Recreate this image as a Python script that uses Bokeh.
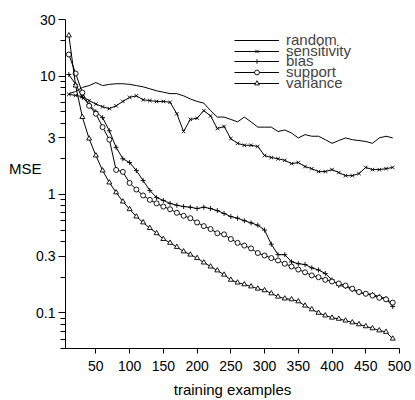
from bokeh.plotting import figure
from bokeh.models import FixedTicker, Legend, LegendItem, CustomJSTickFormatter, LogAxis
from bokeh.embed import file_html
from bokeh.resources import INLINE

# ---- data -------------------------------------------------------------
examples = list(range(10, 500, 10))

random_mse = [7.1, 7.4, 8.0, 8.3, 8.8, 8.3, 8.5, 8.6, 8.6, 8.5,
              8.3, 8.1, 7.8, 7.5, 7.3, 7.1, 7.1, 6.8, 6.4, 6.1,
              5.9, 5.1, 4.5, 4.5, 4.3, 4.1, 4.5, 4.1, 3.7, 3.7,
              3.7, 3.4, 3.5, 3.3, 3.0, 3.2, 3.1, 3.1, 2.9, 2.7,
              2.85, 3.0, 2.9, 2.85, 2.8, 2.7, 3.0, 3.1, 3.0]

sensitivity_mse = [7.0, 6.85, 6.7, 6.2, 5.8, 5.5, 5.3, 5.6, 6.1, 6.6,
                   6.8, 6.3, 6.2, 6.1, 6.1, 6.0, 4.8, 3.4, 4.3, 4.4,
                   5.1, 4.6, 3.6, 3.75, 2.96, 2.7, 2.6, 2.6, 2.54, 2.13,
                   2.05, 2.0, 1.94, 1.82, 1.86, 1.72, 1.65, 1.56, 1.56, 1.62,
                   1.53, 1.44, 1.44, 1.5, 1.69, 1.62, 1.62, 1.65, 1.69]

bias_mse = [10.3, 8.5, 6.6, 5.75, 5.0, 4.45, 3.45, 2.5, 2.0, 1.86,
            1.59, 1.31, 1.08, 0.94, 0.89, 0.84, 0.81, 0.79, 0.78, 0.76,
            0.78, 0.76, 0.73, 0.69, 0.65, 0.63, 0.60, 0.575, 0.55, 0.50,
            0.38, 0.31, 0.31, 0.27, 0.26, 0.256, 0.24, 0.23, 0.215, 0.19,
            0.17, 0.167, 0.157, 0.148, 0.145, 0.143, 0.137, 0.132, 0.113]

support_mse = [15.2, 10.5, 7.25, 5.6, 4.8, 3.7, 2.9, 1.61, 1.55, 1.25,
               1.1, 0.98, 0.9, 0.84, 0.79, 0.75, 0.70, 0.66, 0.63, 0.58,
               0.54, 0.51, 0.47, 0.46, 0.42, 0.39, 0.37, 0.35, 0.32, 0.305,
               0.29, 0.277, 0.26, 0.246, 0.232, 0.22, 0.207, 0.2, 0.19, 0.184,
               0.177, 0.17, 0.16, 0.15, 0.145, 0.14, 0.134, 0.13, 0.122]

variance_mse = [22, 8.3, 4.5, 2.96, 2.13, 1.59, 1.26, 1.04, 0.87, 0.75,
                0.65, 0.58, 0.52, 0.47, 0.42, 0.39, 0.36, 0.33, 0.31, 0.29,
                0.266, 0.246, 0.228, 0.21, 0.19, 0.18, 0.174, 0.167, 0.16, 0.155,
                0.146, 0.137, 0.132, 0.13, 0.125, 0.115, 0.107, 0.1, 0.095, 0.091,
                0.089, 0.086, 0.083, 0.08, 0.077, 0.074, 0.071, 0.069, 0.0605]

series_names = ["random", "sensitivity", "bias", "support", "variance"]
series_markers = [None, "x", "cross", "circle", "triangle"]
series_values = [random_mse, sensitivity_mse, bias_mse, support_mse, variance_mse]

x_ticks = [50, 100, 150, 200, 250, 300, 350, 400, 450, 500]
y_ticks = [0.1, 0.3, 1, 3, 10, 30]
y_minor = [0.05, 0.06, 0.07, 0.08, 0.09, 0.2, 0.4, 0.5, 0.6, 0.7, 0.8, 0.9,
           2, 4, 5, 6, 7, 8, 9, 20]
y_title = "MSE"
y_title_at = 1.67   # height (in MSE units) at which the title sits

FONT = "Liberation Sans"

# ---- figure -----------------------------------------------------------
p = figure(width=415, height=400, x_range=(5, 500), y_range=(0.05, 30),
           y_axis_type="log", output_backend="svg", toolbar_location=None,
           min_border_left=0, min_border_right=16, min_border_top=19,
           min_border_bottom=0)
p.outline_line_color = None
p.xgrid.visible = False
p.ygrid.visible = False
p.background_fill_color = "white"

renderers = []
for name, mk, vals in zip(series_names, series_markers, series_values):
    rs = [p.line(examples, vals, line_color="black", line_width=1)]
    if mk is not None:
        rs.append(p.scatter(examples, vals, marker=mk, size=5,
                            line_color="black", fill_color="white", line_width=0.9))
    renderers.append(rs)

xa = p.xaxis[0]
ya = p.yaxis[0]
for ax in (xa, ya):
    ax.axis_line_color = "black"
    ax.major_tick_line_color = "black"
    ax.major_label_text_font = FONT
    ax.major_label_text_font_size = "14px"
    ax.major_label_text_color = "black"
    ax.axis_label_text_font = FONT
    ax.axis_label_text_font_size = "15px"
    ax.axis_label_text_font_style = "normal"
    ax.axis_label_text_color = "black"
    ax.major_tick_in = 0

xa.ticker = FixedTicker(ticks=x_ticks)
xa.minor_tick_line_color = None
xa.major_tick_out = 5
xa.major_label_standoff = 7
xa.axis_label = "training examples"
xa.axis_label_standoff = 7

ya.ticker = FixedTicker(ticks=y_ticks, minor_ticks=y_minor)
ya.formatter = CustomJSTickFormatter(code="return String(tick)")
ya.major_tick_out = 7
ya.minor_tick_in = 0
ya.minor_tick_out = 5
ya.minor_tick_line_color = "black"
ya.major_label_standoff = 3

# horizontal "MSE" title, drawn as the single label of a bare helper axis
title_axis = LogAxis(ticker=FixedTicker(ticks=[y_title_at]), axis_line_color=None,
                     major_tick_line_color=None, minor_tick_line_color=None,
                     major_tick_out=0, major_tick_in=0, minor_tick_out=0, minor_tick_in=0,
                     major_label_standoff=-8, major_label_overrides={y_title_at: y_title},
                     major_label_text_font=FONT, major_label_text_font_size="15px",
                     major_label_text_color="black")
p.add_layout(title_axis, "left")

# empty outer axis that only keeps a small margin at the far left
spacer = LogAxis(ticker=FixedTicker(ticks=[1]), axis_line_color=None,
                 major_tick_line_color=None, minor_tick_line_color=None,
                 major_tick_out=5, major_tick_in=0, minor_tick_out=0,
                 major_label_standoff=0, major_label_overrides={1: ""})
p.add_layout(spacer, "left")

# legend: one small legend per entry so the rows sit close together
row_y = [300, 289, 279, 268, 257]
for name, rs, ry in zip(series_names, renderers, row_y):
    lg = Legend(items=[LegendItem(label=name, renderers=rs)], location=(169, ry),
                glyph_width=45, glyph_height=12, label_height=12, label_standoff=7,
                padding=0, margin=0, spacing=0,
                label_text_font=FONT, label_text_font_size="15px",
                border_line_color=None, background_fill_alpha=0)
    p.add_layout(lg)

open("out.html", "w").write(file_html(p, INLINE))
